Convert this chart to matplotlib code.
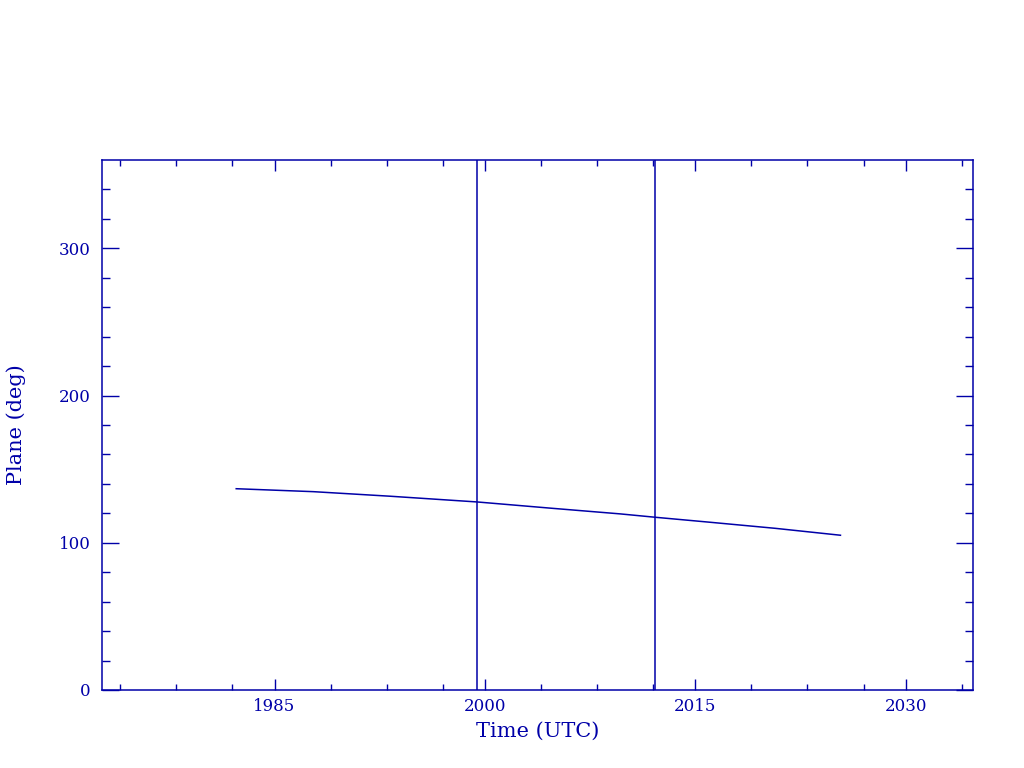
import numpy as np
import matplotlib
matplotlib.use('Agg')
import matplotlib.pyplot as plt
from matplotlib.ticker import FixedLocator

# orbital plane angle vs time
years = [1982.27, 1987.77, 1993.25, 1999.46, 2004.67, 2009.65, 2012.16,
         2016.08, 2020.7, 2025.35]
plane = [136.7, 134.7, 131.6, 127.7, 123.5, 119.6, 117.3, 113.9, 109.8, 105.1]
markers = [1999.46, 2012.15]

major_x = [1985, 2000, 2015, 2030]
minor_x = [1974, 1978, 1982, 1989, 1993, 1997, 2004, 2008, 2012,
           2019, 2023, 2027, 2034]
major_y = [0, 100, 200, 300]
minor_y = [20, 40, 60, 80, 120, 140, 160, 180, 220, 240, 260, 280, 320, 340]

col = '#0000a8'
plt.rcParams['font.family'] = ['DejaVu Serif']

fig = plt.figure(figsize=(10.24, 7.68), dpi=100)
ax = fig.add_axes([0.0996, 0.1016, 0.8506, 0.6901])

ax.plot(years, plane, color=col, lw=1.1)
for m in markers:
    ax.axvline(m, color=col, lw=1.1)

ax.set_xlim(1972.7, 2034.8)
ax.set_ylim(0, 360)

ax.xaxis.set_major_locator(FixedLocator(major_x))
ax.xaxis.set_minor_locator(FixedLocator(minor_x))
ax.yaxis.set_major_locator(FixedLocator(major_y))
ax.yaxis.set_minor_locator(FixedLocator(minor_y))

ax.tick_params(axis='x', which='major', direction='in', length=8, width=1,
               color=col, labelcolor=col, labelsize=12, pad=6, top=True)
ax.tick_params(axis='x', which='minor', direction='in', length=4, width=1,
               color=col, top=True)
ax.tick_params(axis='y', which='major', direction='in', length=12, width=1,
               color=col, labelcolor=col, labelsize=12, pad=8, right=True)
ax.tick_params(axis='y', which='minor', direction='in', length=6, width=1,
               color=col, right=True)

for s in ax.spines.values():
    s.set_color(col)
    s.set_linewidth(1.1)

ax.set_xlabel('Time (UTC)', color=col, fontsize=15, labelpad=5)
ax.set_ylabel('Plane (deg)', color=col, fontsize=15, labelpad=24)

fig.savefig('out.png', dpi=100, facecolor='white')
